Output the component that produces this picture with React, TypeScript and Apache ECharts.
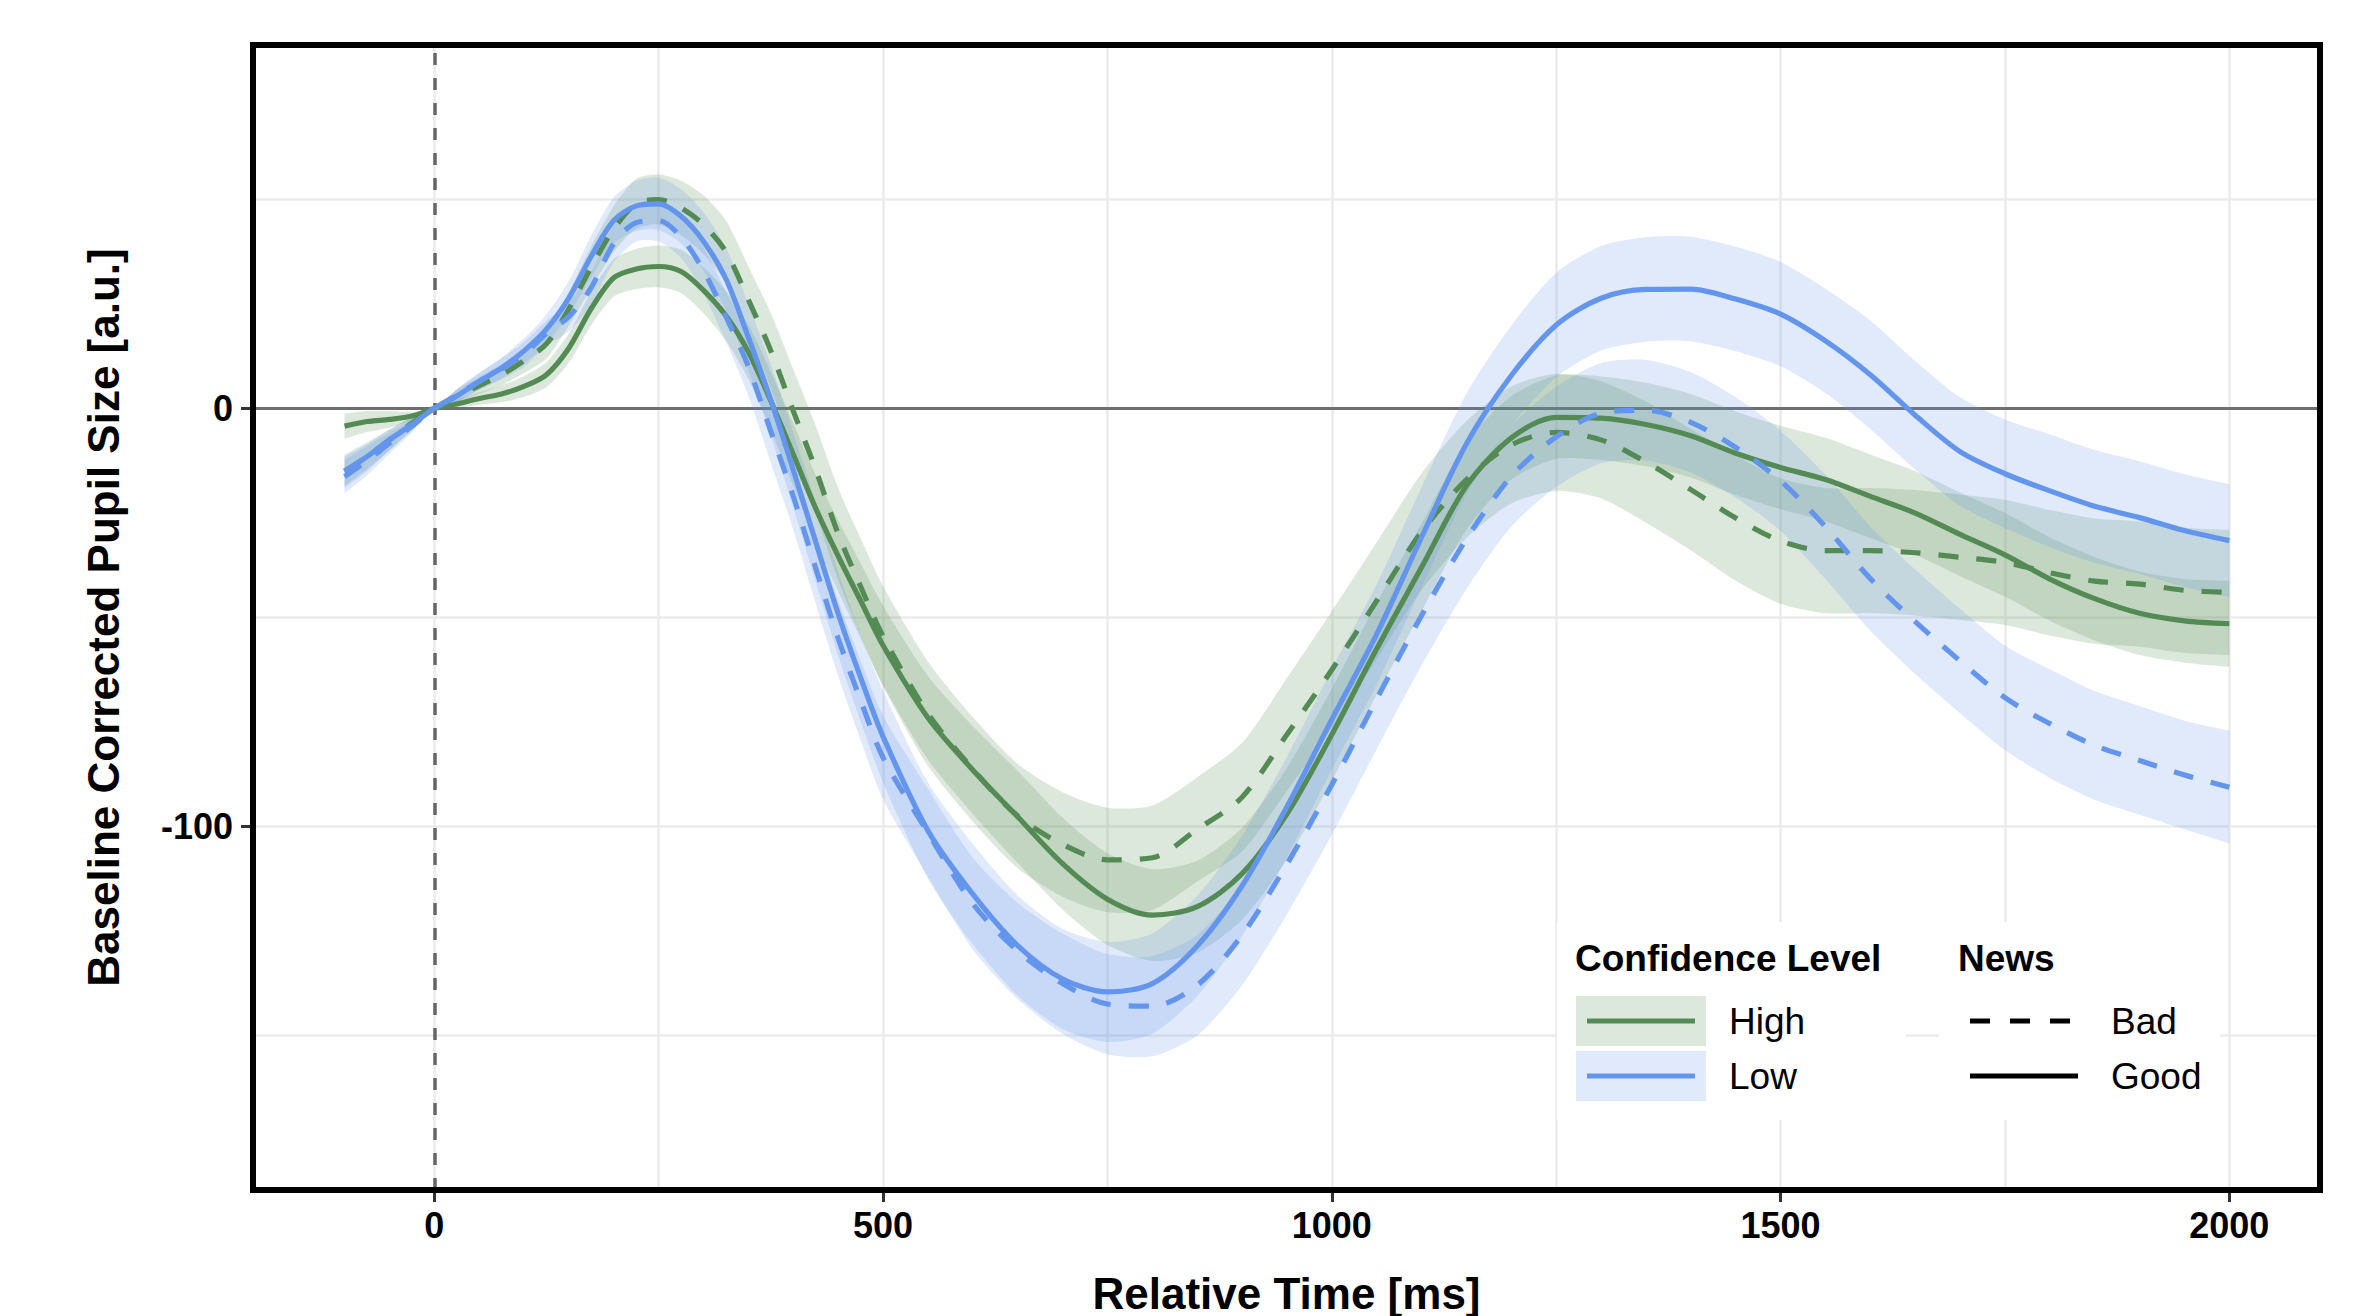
import React, { useEffect, useRef } from "react";
import * as echarts from "echarts";

// ---------- data ----------
const timeMs = [
  -100, -75, -50, -25, 0, 25, 50, 75, 100, 125, 150, 175, 200, 225, 250, 275, 300, 325, 350, 375, 400, 425, 450, 475, 500,
  550, 600, 650, 700, 750, 800, 850, 900, 950, 1000, 1050, 1100, 1150, 1200, 1250, 1300, 1350, 1400, 1450, 1500,
  1550, 1600, 1650, 1700, 1750, 1800, 1850, 1900, 1950, 2000,
];

// Confidence High / News Good (green solid)
const highGood = [
  -4.2, -3.1, -2.6, -1.8, 0, 1.1, 2.4, 3.5, 5.3, 8.1, 14.5, 24, 31.3, 33.4, 34, 32.8, 28.3, 22.2, 13.5, 1.8, -11, -23.9, -35.3, -46, -56.7,
  -74, -86.5, -97.7, -108.9, -117.4, -121.2, -119.2, -111.3, -97, -78, -57.5, -38, -18.5, -7, -2.1, -2.3, -3.8, -6.5, -10.7, -14.1,
  -17, -21, -25, -30.1, -35, -40.8, -45.5, -49, -50.8, -51.5,
];
// Confidence High / News Bad (green dashed)
const highBad = [
  -15, -11.5, -7.5, -3.5, 0, 3, 5.5, 8.1, 11.5, 15.5, 23.9, 33.9, 43, 49, 50, 48, 44, 37.5, 26, 13.8, -0.6, -14.6, -30, -42.6, -54.5,
  -73, -86.3, -97.5, -104.3, -108, -107.5, -100.7, -93, -78, -62.5, -46, -29.5, -17, -8.7, -5.7, -7.5, -12.8, -19.4, -26.2, -31.7,
  -34, -34, -34.5, -35.6, -36.8, -39.3, -41.3, -42, -43.5, -44,
];
// Confidence Low / News Good (blue solid)
const lowGood = [
  -15, -11.5, -7.5, -3.8, 0, 3, 6.5, 9.7, 13.8, 19, 26.5, 36.5, 45, 48.5, 49, 46, 40, 31, 17, 2, -14.7, -32, -49.1, -64.4, -78.5,
  -101, -116.2, -128.5, -136.5, -139.6, -137.6, -128.6, -114.2, -95.3, -74.4, -54, -30.8, -8.4, 7.9, 20, 26.4, 28.5, 28.6, 26.2, 22.6,
  16.2, 8.1, -1.6, -10.3, -15.6, -19.7, -23.4, -26.1, -29.2, -31.6,
];
// Confidence Low / News Bad (blue dashed)
const lowBad = [
  -16.3, -12.5, -8.3, -4.2, 0, 3.2, 6.5, 9.5, 13, 18, 22, 29, 39.5, 44.5, 45, 41, 33, 22, 10, -5.5, -21, -38.2, -55, -69.8, -83.5,
  -101.5, -118.5, -129.8, -137.6, -142.5, -143, -138, -126, -109, -90, -69.5, -49.5, -31.2, -16.2, -6.8, -1.1, -0.4, -3.3, -9.3, -17.3,
  -28.3, -40.7, -51, -60.4, -69.2, -75.4, -80.6, -84.2, -87.7, -90.6,
];

// half widths of the shaded ribbons
const seHighGood = [
  3, 2.5, 2, 1, 0, 1, 1.5, 2, 2.5, 3, 3.5, 4, 4.5, 4.8, 5, 5.2, 5.5, 6, 6.5, 7, 7.5, 8, 8.5, 9, 9.5,
  10, 10.5, 11, 11, 11, 11, 11, 11, 11, 11, 11, 10.5, 10.5, 10, 10, 10, 10, 10, 10, 10,
  10, 10, 10, 10, 10, 10, 10, 10, 10, 10.3,
];
const seHighBad = [
  3.5, 3, 2.5, 1.5, 0, 1.5, 2, 2.5, 3, 3.5, 4, 5, 5.5, 6, 6, 6.5, 7, 7.5, 8, 9, 10, 10.5, 11, 11.5, 12,
  12.5, 12.5, 12.5, 12.5, 12.5, 12.5, 12.5, 13, 13.5, 14, 14, 14, 14, 14, 14, 14, 14.5, 14.5, 15, 15,
  15, 15, 15, 15, 15, 15, 15, 15, 15, 15,
];
const seLowGood = [
  4, 3.5, 2.5, 1.5, 0, 1.5, 2, 2.5, 3, 3.5, 4, 5, 5.5, 6, 6.3, 6.5, 7, 7.5, 8, 8.5, 9, 9.5, 10, 10.5, 11,
  11.5, 12, 12, 12, 12, 12, 12, 12, 12, 12, 12, 12, 12, 12, 12.5, 12.5, 12.5, 12.5, 12.5, 12.5,
  12.5, 13, 13, 13, 13, 13.5, 13.5, 13.5, 13.5, 13.5,
];
const seLowBad = [
  4, 3.5, 2.5, 1.5, 0, 1.5, 2, 2.5, 3, 3, 3.5, 4, 4.5, 4.5, 5, 5, 5.5, 6, 7, 7.5, 8, 8.5, 9, 9.5, 10,
  10.5, 11, 11.5, 12, 12, 12, 12, 12, 12, 12, 12, 12, 12, 12, 12, 12, 12, 12, 12, 12,
  12.5, 12.5, 12.5, 12.5, 12.5, 13, 13, 13, 13, 13.5,
];

const xTicks = [0, 500, 1000, 1500, 2000];
const xMinorGrid = [250, 750, 1250, 1750];
const yTicks = [-100, 0];
const yMinorGrid = [-150, -50, 50];

const confidenceLevels = ["High", "Low"];
const newsLevels = ["Bad", "Good"];

// ---------- styling ----------
const GREEN = "#548B54";
const BLUE = "#6495ED";
const FONT = "'Liberation Sans', Arial, Helvetica, sans-serif";
const DASH = [20, 18];
const SMOOTH = 0.3;
const LINE_W = 5.2;

const GRID = { left: 253, top: 45, width: 2067, height: 1145 };

function pairs(ys: number[]) {
  return timeMs.map((t, i) => [t, ys[i]]);
}

function ribbon(id: string, mean: number[], se: number[], color: string) {
  const lower = mean.map((m, i) => m - se[i]);
  const upper = mean.map((m, i) => m + se[i]);
  return {
    name: id + "-ribbon",
    type: "custom",
    silent: true,
    z: 3,
    data: timeMs.map((t, i) => [t, lower[i], upper[i]]),
    encode: { x: 0, y: [1, 2] },
    renderItem: (params: any, api: any) => {
      if (params.dataIndex !== 0) return null;
      const top = timeMs.map((t, i) => api.coord([t, upper[i]]));
      const bottom = timeMs.map((t, i) => api.coord([t, lower[i]])).reverse();
      // duplicate the end points so the ribbon ends stay square
      const pts = [top[0], ...top, top[top.length - 1], bottom[0], ...bottom, bottom[bottom.length - 1]];
      return {
        type: "polygon",
        shape: { points: pts, smooth: 0.25 },
        style: { fill: color, opacity: 0.2 },
      };
    },
  };
}

function curve(name: string, ys: number[], color: string, dashed: boolean) {
  return {
    name,
    type: "line",
    data: pairs(ys),
    symbol: "none",
    smooth: SMOOTH,
    silent: true,
    lineStyle: { color, width: LINE_W, type: dashed ? DASH : "solid" },
    z: 4,
  };
}

function legendGraphics() {
  const els: any[] = [];
  // white backgrounds
  els.push({ type: "rect", shape: { x: 1557, y: 922, width: 349, height: 198 }, style: { fill: "#fff" }, z: 10 });
  els.push({ type: "rect", shape: { x: 1939, y: 922, width: 281, height: 198 }, style: { fill: "#fff" }, z: 10 });
  els.push({
    type: "text", x: 1575, y: 958, z: 11,
    style: { text: "Confidence Level", fontSize: 37, fontWeight: "bold", fontFamily: FONT, fill: "#000", align: "left", verticalAlign: "middle" },
  });
  els.push({
    type: "text", x: 1958, y: 958, z: 11,
    style: { text: "News", fontSize: 37, fontWeight: "bold", fontFamily: FONT, fill: "#000", align: "left", verticalAlign: "middle" },
  });
  const colors = [GREEN, BLUE];
  confidenceLevels.forEach((lab, i) => {
    const top = 996 + i * 55;
    const cy = top + 25;
    els.push({ type: "rect", shape: { x: 1576, y: top, width: 130, height: 50 }, style: { fill: colors[i], opacity: 0.2 }, z: 11 });
    els.push({ type: "line", shape: { x1: 1587, y1: cy, x2: 1695, y2: cy }, style: { stroke: colors[i], lineWidth: 4.8 }, z: 12 });
    els.push({
      type: "text", x: 1729, y: cy, z: 12,
      style: { text: lab, fontSize: 37, fontFamily: FONT, fill: "#000", align: "left", verticalAlign: "middle" },
    });
  });
  newsLevels.forEach((lab, i) => {
    const cy = 1021 + i * 55;
    els.push({
      type: "line", shape: { x1: 1970, y1: cy, x2: 2078, y2: cy },
      style: { stroke: "#000", lineWidth: 4.8, lineDash: lab === "Bad" ? [20, 20] : null }, z: 12,
    });
    els.push({
      type: "text", x: 2111, y: cy, z: 12,
      style: { text: lab, fontSize: 37, fontFamily: FONT, fill: "#000", align: "left", verticalAlign: "middle" },
    });
  });
  return els;
}

export default function App() {
  const ref = useRef<HTMLDivElement>(null);

  useEffect(() => {
    if (!ref.current) return;
    const chart = echarts.init(ref.current, undefined, { renderer: "svg" });

    const axisLabelStyle = {
      color: "#000", fontSize: 36, fontWeight: "bold", fontFamily: FONT,
      formatter: (v: number) => String(v),
    };

    const option: any = {
      animation: false,
      backgroundColor: "#fff",
      textStyle: { fontFamily: FONT },
      grid: { ...GRID, show: false, containLabel: false },
      xAxis: {
        type: "value",
        min: -202,
        max: 2101,
        axisLine: { show: false, onZero: false },
        splitLine: { show: false },
        axisTick: { show: true, customValues: xTicks, length: 12, lineStyle: { color: "#333", width: 3 } },
        axisLabel: { customValues: xTicks, margin: 17, ...axisLabelStyle },
      },
      yAxis: {
        type: "value",
        min: -187,
        max: 87,
        axisLine: { show: false, onZero: false },
        splitLine: { show: false },
        axisTick: { show: true, customValues: yTicks, length: 12, lineStyle: { color: "#333", width: 3 } },
        axisLabel: { customValues: yTicks, margin: 20, ...axisLabelStyle },
      },
      series: [
        {
          name: "grid-lines",
          type: "line",
          data: [],
          silent: true,
          z: 1,
          markLine: {
            silent: true,
            z: 1,
            symbol: ["none", "none"],
            label: { show: false },
            lineStyle: { color: "#EBEBEB", width: 2.5, type: "solid" },
            data: [
              ...[...xTicks, ...xMinorGrid].map((v) => ({ xAxis: v })),
              ...[...yTicks, ...yMinorGrid].map((v) => ({ yAxis: v })),
            ],
          },
        },
        {
          name: "ref-lines",
          type: "line",
          data: [],
          silent: true,
          z: 2,
          markLine: {
            silent: true,
            z: 2,
            symbol: ["none", "none"],
            label: { show: false },
            data: [
              { yAxis: 0, lineStyle: { color: "#6E6E6E", width: 3, type: "solid" } },
              { xAxis: 0, lineStyle: { color: "#666666", width: 3.5, type: [12, 13] } },
            ],
          },
        },
        ribbon("HG", highGood, seHighGood, GREEN),
        ribbon("HB", highBad, seHighBad, GREEN),
        ribbon("LG", lowGood, seLowGood, BLUE),
        ribbon("LB", lowBad, seLowBad, BLUE),
        curve("High - Good", highGood, GREEN, false),
        curve("High - Bad", highBad, GREEN, true),
        curve("Low - Good", lowGood, BLUE, false),
        curve("Low - Bad", lowBad, BLUE, true),
      ],
      graphic: [
        {
          type: "rect",
          shape: { x: GRID.left, y: GRID.top, width: GRID.width, height: GRID.height },
          style: { fill: "none", stroke: "#000", lineWidth: 6 },
          z: 20,
          silent: true,
        },
        {
          type: "text",
          x: GRID.left + GRID.width / 2,
          y: 1293,
          z: 20,
          style: { text: "Relative Time [ms]", fontSize: 44, fontWeight: "bold", fontFamily: FONT, fill: "#000", align: "center", verticalAlign: "middle" },
        },
        {
          type: "text",
          x: 103.5,
          y: GRID.top + GRID.height / 2,
          rotation: Math.PI / 2,
          z: 20,
          style: { text: "Baseline Corrected Pupil Size [a.u.]", fontSize: 44, fontWeight: "bold", fontFamily: FONT, fill: "#000", align: "center", verticalAlign: "middle" },
        },
        ...legendGraphics(),
      ],
    };

    chart.setOption(option);
    return () => chart.dispose();
  }, []);

  return <div ref={ref} style={{ position: "absolute", left: 0, top: 0, width: 2355, height: 1316 }} />;
}
